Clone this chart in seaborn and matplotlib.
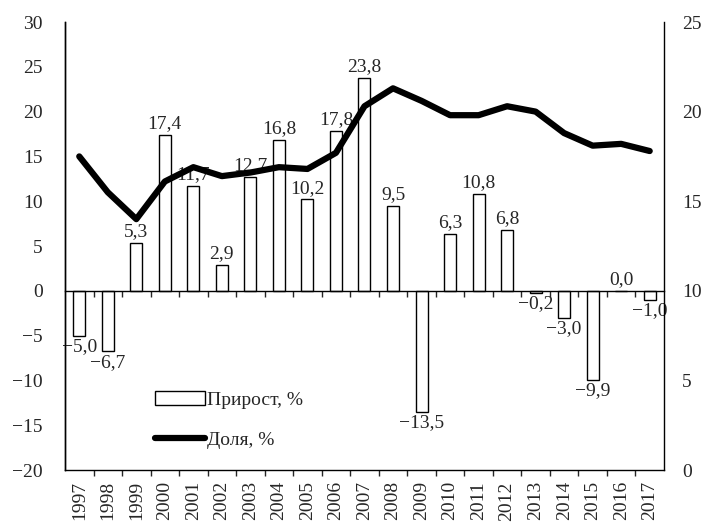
import matplotlib
matplotlib.use('Agg')
import matplotlib.pyplot as plt
from matplotlib.patches import Patch
from matplotlib.lines import Line2D
from matplotlib.ticker import FixedLocator
import seaborn as sns
import numpy as np
import pandas as pd

years = ['1997', '1998', '1999', '2000', '2001', '2002', '2003', '2004', '2005', '2006', '2007',
         '2008', '2009', '2010', '2011', '2012', '2013', '2014', '2015', '2016', '2017']
growth = [-5.0, -6.7, 5.3, 17.4, 11.7, 2.9, 12.7, 16.8, 10.2, 17.8, 23.8,
          9.5, -13.5, 6.3, 10.8, 6.8, -0.2, -3.0, -9.9, 0.0, -1.0]
share = [17.5, 15.5, 14.0, 16.1, 16.9, 16.4, 16.6, 16.9, 16.8, 17.7, 20.3,
         21.3, 20.6, 19.8, 19.8, 20.3, 20.0, 18.8, 18.1, 18.2, 17.8]


def fmt(v):
    return f'{v:.1f}'.replace('.', ',').replace('-', '\u2212')


sns.set_style('ticks')
plt.rcParams['font.family'] = ['Liberation Serif', 'DejaVu Serif']
plt.rcParams['font.size'] = 14

df = pd.DataFrame({'year': years, 'growth': growth, 'share': share})

fig = plt.figure(figsize=(7.05, 5.29), dpi=100)
ax = fig.add_axes([0.0922, 0.1115, 0.8496, 0.8469])

# bars - growth, left axis
sns.barplot(data=df, x='year', y='growth', color='white', edgecolor='black',
            linewidth=1, width=0.42, saturation=1, errorbar=None, ax=ax)
ax.bar_label(ax.containers[0], labels=[fmt(v) for v in growth], padding=2, fontsize=14)
ax.set_ylim(-20, 30)
ax.set_yticks(range(-20, 31, 5))
ax.set_yticklabels([str(t).replace('-', '\u2212') for t in range(-20, 31, 5)])
ax.spines['bottom'].set_position(('data', 0))
ax.spines['top'].set_visible(False)
ax.spines['right'].set_visible(False)
ax.set_xlabel('')
ax.set_ylabel('')
ax.tick_params(axis='y', length=0, pad=16, labelsize=14)

# line - share, right axis
ax2 = ax.twinx()
sns.lineplot(x=np.arange(len(years)), y=df['share'], color='black', linewidth=4.5, ax=ax2)
ax2.set_ylim(0, 25)
ax2.set_yticks(range(0, 26, 5))
ax2.set_ylabel('')
ax2.tick_params(axis='y', length=0, pad=13, labelsize=14)
ax2.spines['top'].set_visible(False)

ax2.set_xlim(-0.5, len(years) - 0.5)
ax2.set_xticks(range(len(years)))
ax2.set_xticklabels(years)
ax2.xaxis.set_minor_locator(FixedLocator(np.arange(0.5, len(years) - 1, 1)))
ax2.xaxis.set_visible(True)
ax.tick_params(axis='x', which='major', length=0, labelbottom=False)
ax.tick_params(axis='x', which='minor', length=4, width=1, direction='out')
ax2.tick_params(axis='x', which='major', length=0, labelbottom=True,
                labelrotation=90, pad=8, labelsize=14)
ax2.tick_params(axis='x', which='minor', length=4, width=1, direction='out', bottom=True)

for a in (ax, ax2):
    for s in a.spines.values():
        s.set_color('black')
        s.set_linewidth(1)

handles = [Patch(facecolor='white', edgecolor='black', linewidth=1),
           Line2D([], [], color='black', linewidth=4.5)]
ax2.legend(handles, ['Прирост, %', 'Доля, %'], loc='lower left',
           bbox_to_anchor=(0.137, 0.029), borderaxespad=0, frameon=False,
           handlelength=2.6, handletextpad=0.1, labelspacing=1.16, fontsize=14)

fig.savefig('out.png', dpi=100)
